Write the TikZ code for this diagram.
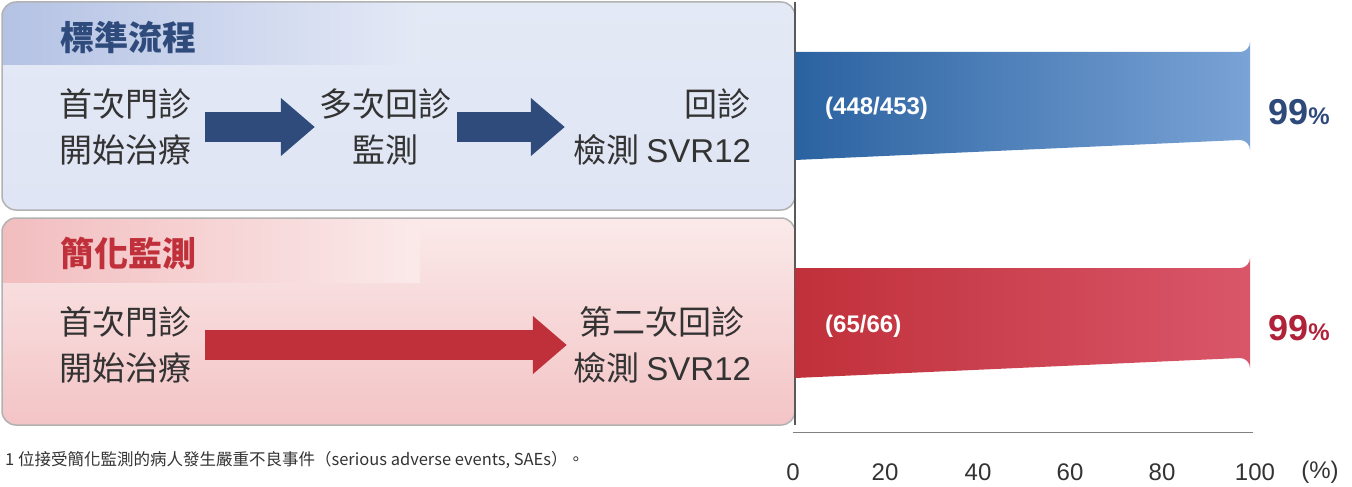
\documentclass[tikz,border=0pt]{standalone}
\usepackage{fontspec}
\setmainfont{Liberation Sans}
\newfontfamily\cjk{Noto Sans CJK TC}
\usetikzlibrary{arrows.meta}
\definecolor{dblue}{HTML}{2F4B7C}
\definecolor{dred}{HTML}{C0303A}
\definecolor{txt}{HTML}{333333}
\definecolor{pblue}{HTML}{DFE5F4}
\definecolor{hblue}{HTML}{B4C2E4}
\definecolor{pred}{HTML}{F9E0E0}
\definecolor{hred}{HTML}{F2BDBF}
\definecolor{pcblue}{HTML}{2E4A7A}
\definecolor{pcred}{HTML}{B0213A}
\definecolor{barbA}{HTML}{2A62A0}
\definecolor{barbB}{HTML}{7AA3D6}
\definecolor{barrA}{HTML}{C0303A}
\definecolor{barrB}{HTML}{D9566A}
\begin{document}
\begin{tikzpicture}[x=1pt,y=-1pt,
  body/.style={font=\cjk\fontsize{33}{46}\selectfont,text=txt,align=center,inner sep=0},
  head/.style={font=\cjk\bfseries\fontsize{34}{40}\selectfont,inner sep=0},
  barlab/.style={font=\bfseries\fontsize{24}{28}\selectfont,text=white,anchor=west,inner sep=0},
  pct/.style={font=\bfseries\fontsize{36}{40}\selectfont,inner sep=0,anchor=west},
  tick/.style={font=\fontsize{24}{28}\selectfont,text=txt,inner sep=0},
  blk/.style={line width=30pt,-{Triangle[width=56pt,length=34pt]}}]
\useasboundingbox (0,0) rectangle (1352,487);
% panels
\begin{scope}
\clip[rounded corners=14] (2,2) rectangle (795,210);
\shade[top color=pblue!85!white,bottom color=pblue] (2,2) rectangle (795,210);
\shade[left color=hblue,right color=pblue!85!white] (2,2) rectangle (420,65);
\end{scope}
\draw[gray!60,line width=1.5pt,rounded corners=14] (2,2) rectangle (795,210);
\begin{scope}
\clip[rounded corners=14] (2,218) rectangle (795,425);
\shade[top color=pred!70!white,bottom color=hred!80!pred] (2,218) rectangle (795,425);
\shade[left color=hred,right color=pred!70!white] (2,218) rectangle (420,282);
\end{scope}
\draw[gray!60,line width=1.5pt,rounded corners=14] (2,218) rectangle (795,425);
\draw[gray!70!black,line width=1.5pt] (795,2) -- (795,425);
% headers
\node[head,text=dblue] (h1) at (128,37) {標準流程};
\node[head,text=dred] (h2) at (128,253) {簡化監測};
% top row
\node[body] (a1) at (125,127) {首次門診\\開始治療};
\node[body] (a2) at (385,127) {多次回診\\監測};
\node[body,align=right] (a3) at (662,127) {回診\\檢測 {\fontfamily{\rmdefault}\selectfont SVR12}};
\draw[blk,dblue,shorten <=14pt,shorten >=4pt] (a1.east) -- (a2.west);
\draw[blk,dblue,shorten <=6pt,shorten >=8pt] (a2.east) -- (a3.west);
% bottom row
\node[body] (b1) at (125,345) {首次門診\\開始治療};
\node[body] (b3) at (662,345) {第二次回診\\檢測 {\fontfamily{\rmdefault}\selectfont SVR12}};
\draw[blk,dred,shorten <=14pt,shorten >=6pt] (b1.east) -- (b3.west);
% bars
\shade[left color=barbA,right color=barbB] (795,52) -- (1240,52) arc[start angle=90,end angle=0,radius=10] -- (1250,150) arc[start angle=0,end angle=-90,radius=10] -- (795,160) -- cycle;
\node[barlab] (l1) at (825,108) {(448/453)};
\node[pct,text=pcblue] (p1) at (1268,112) {99{\fontsize{24}{28}\selectfont\%}};
\shade[left color=barrA,right color=barrB] (795,268) -- (1240,268) arc[start angle=90,end angle=0,radius=10] -- (1250,368) arc[start angle=0,end angle=-90,radius=10] -- (795,378) -- cycle;
\node[barlab] (l2) at (825,326) {(65/66)};
\node[pct,text=pcred] (p2) at (1268,328) {99{\fontsize{24}{28}\selectfont\%}};
% axis
\draw[gray,line width=1pt] (793,432) coordinate (ax0) -- (1253,432) coordinate (ax1);
\foreach \v/\x in {0/793,20/885,40/978,60/1070,80/1162,100/1255}
  \node[tick] (t\v) at (\x,472) {\v};
\node[tick] (tp) at (1320,472) {(\%)};
% footnote
\node[font=\cjk\fontsize{16.5}{20}\selectfont,text=txt,anchor=west,inner sep=0] (fn) at (5,460) {1 位接受簡化監測的病人發生嚴重不良事件（serious adverse events, SAEs）。};
\end{tikzpicture}
\end{document}
